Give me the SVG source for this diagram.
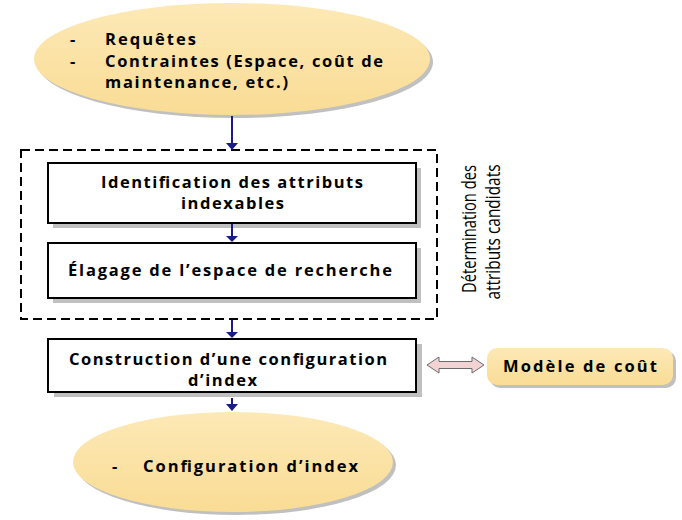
<svg xmlns="http://www.w3.org/2000/svg" width="682" height="520" viewBox="0 0 682 520">
<defs>
<style>
.t{font-family:"Open Sans","Liberation Sans",Arial,sans-serif;font-weight:bold;font-size:16.5px;fill:#000}
.v{font-family:"Open Sans","Liberation Sans",Arial,sans-serif;font-size:20px;fill:#000}
.box{fill:#fff;stroke:#000;stroke-width:2}
.sh{fill:#c0c0c0}
.ell{fill:url(#g)}
.con{stroke:#1c1c85;stroke-width:2;fill:none}
.hd{fill:#1c1c85}
</style>
<linearGradient id="g" x1="0" y1="0" x2="0" y2="1">
<stop offset="0" stop-color="#fde9b6"/>
<stop offset="1" stop-color="#f9dc95"/>
</linearGradient>
</defs>
<rect width="682" height="520" fill="#fff"/>

<g id="entree">
<ellipse cx="235" cy="62" rx="198" ry="56" class="sh"/>
<ellipse cx="232" cy="59" rx="198" ry="56" class="ell"/>
<text class="t" x="70" y="45">-</text>
<text class="t" x="105" y="45" textLength="91" lengthAdjust="spacing">Requêtes</text>
<text class="t" x="70" y="67">-</text>
<text class="t" x="105" y="67" textLength="278" lengthAdjust="spacing">Contraintes (Espace, coût de</text>
<text class="t" x="105" y="88" textLength="183" lengthAdjust="spacing">maintenance, etc.)</text>
</g>

<g id="groupe">
<rect x="21" y="150" width="416" height="169" fill="none" stroke="#000" stroke-width="2" stroke-dasharray="9 5"/>
<text class="v" x="476" y="229" text-anchor="middle" transform="rotate(-90 476 229)" textLength="128" lengthAdjust="spacingAndGlyphs">Détermination des</text>
<text class="v" x="500" y="232" text-anchor="middle" transform="rotate(-90 500 232)" textLength="135" lengthAdjust="spacingAndGlyphs">attributs candidats</text>
</g>

<g id="identification">
<rect x="53" y="168" width="368" height="60" class="sh"/>
<rect x="48" y="163" width="368" height="60" class="box"/>
<text class="t" x="101" y="188" textLength="262" lengthAdjust="spacing">Identification des attributs</text>
<text class="t" x="181" y="209" textLength="103" lengthAdjust="spacing">indexables</text>
</g>

<g id="elagage">
<rect x="53" y="248" width="368" height="55" class="sh"/>
<rect x="48" y="243" width="368" height="55" class="box"/>
<text class="t" x="68" y="276" textLength="324" lengthAdjust="spacing">Élagage de l’espace de recherche</text>
</g>

<g id="construction">
<rect x="54" y="344" width="368" height="53" class="sh"/>
<rect x="48" y="339" width="368" height="53" class="box"/>
<text class="t" x="69" y="365" textLength="318" lengthAdjust="spacing">Construction d’une configuration</text>
<text class="t" x="188" y="386" textLength="69" lengthAdjust="spacing">d’index</text>
</g>

<g id="modele">
<rect x="490" y="351" width="186" height="37" rx="10" class="sh"/>
<rect x="487" y="348" width="186" height="37" rx="10" class="ell"/>
<text class="t" x="503" y="372" textLength="154" lengthAdjust="spacing">Modèle de coût</text>
</g>

<g id="sortie">
<ellipse cx="236" cy="465" rx="160" ry="50" class="sh"/>
<ellipse cx="233" cy="462" rx="160" ry="50" class="ell"/>
<text class="t" x="112" y="472">-</text>
<text class="t" x="143" y="472" textLength="215" lengthAdjust="spacing">Configuration d’index</text>
</g>

<g id="connecteurs">
<line x1="232" y1="116" x2="232" y2="144" class="con"/>
<polygon points="226,143 238,143 232,150" class="hd"/>
<line x1="232" y1="224" x2="232" y2="237" class="con"/>
<polygon points="226,236 238,236 232,242" class="hd"/>
<line x1="232" y1="320" x2="232" y2="333" class="con"/>
<polygon points="226,332 238,332 232,338" class="hd"/>
<line x1="232" y1="398" x2="232" y2="405" class="con"/>
<polygon points="226,404 238,404 232,411" class="hd"/>
<polygon points="427,365 439,357 439,361.5 472,361.5 472,357 484,365 472,373 472,368.5 439,368.5 439,373" fill="#f2d3d3" stroke="#6b6b6b" stroke-width="1"/>
</g>
</svg>
